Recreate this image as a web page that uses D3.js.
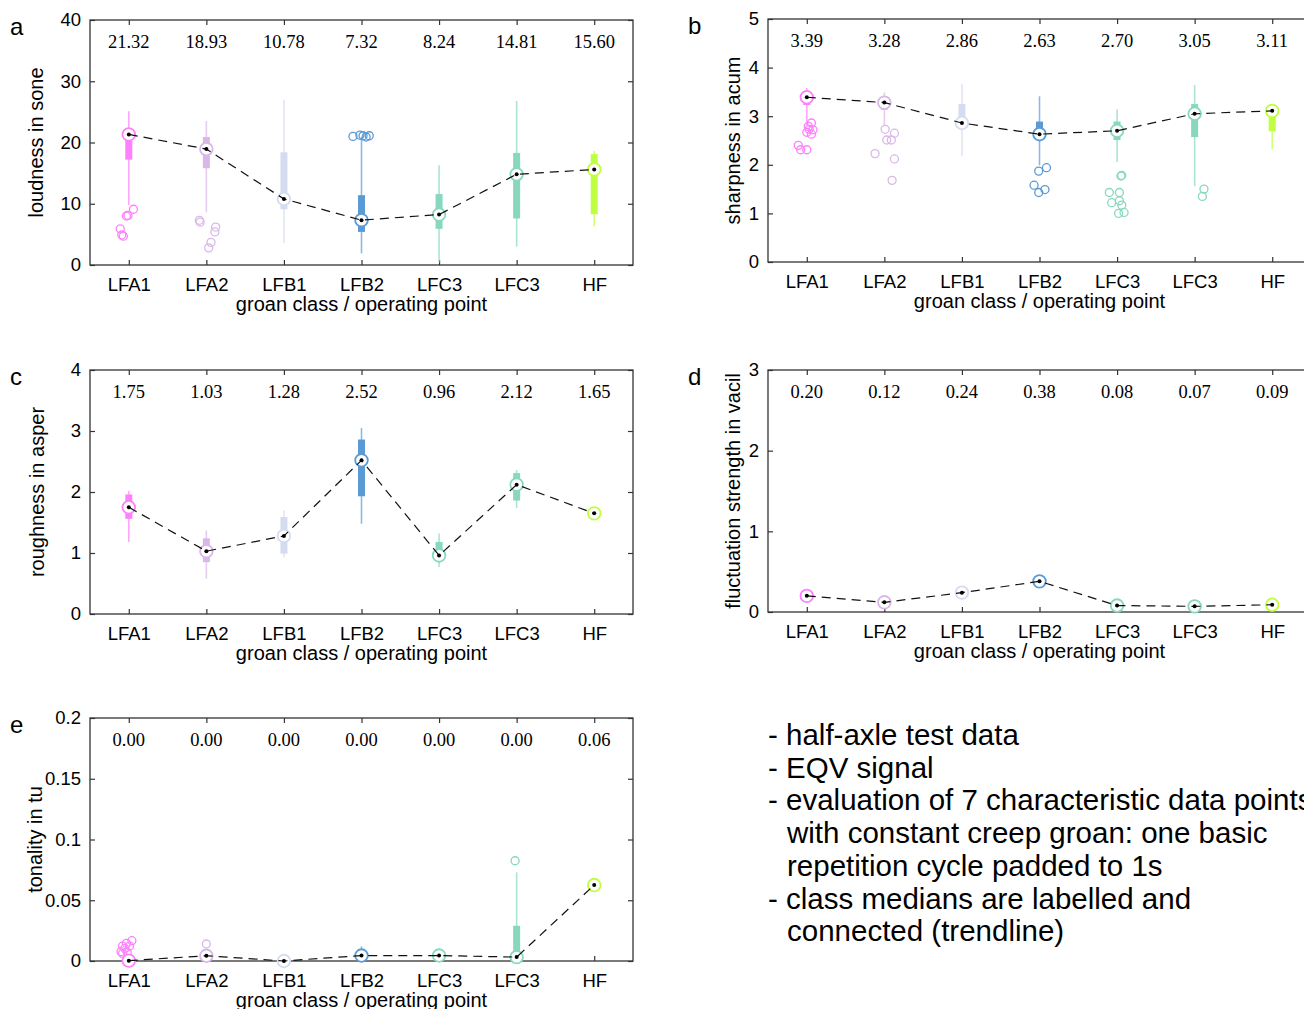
<!DOCTYPE html>
<html>
<head>
<meta charset="utf-8">
<script src="https://cdn.jsdelivr.net/npm/d3@7"></script>
<style>
  html, body { margin: 0; padding: 0; background: #fff; overflow: hidden; }
  svg { display: block; }
  .tick text { font-family: "Liberation Sans", Arial, sans-serif; font-size: 18.5px; fill: #000; }
  .tick line { stroke: #333; stroke-width: 1.2; }
</style>
</head>
<body>
<svg id="fig" width="1304" height="1009"></svg>
<script>
// groan classes, one box per class
const categories = ['LFA1', 'LFA2', 'LFB1', 'LFB2', 'LFC3', 'LFC3', 'HF'];
const classColors = ['#ff80ff', '#d9b8e8', '#d5dcf0', '#5b9bd5', '#88d8c0', '#88d8c0', '#bfff3f'];

// box stats per class: [whisker low, q1, median, q3, whisker high]
const loudnessStats = [
    [9.8, 17.2, 21.32, 21.5, 25.1],
    [8.6, 15.8, 18.93, 20.9, 23.5],
    [3.6, 9.1, 10.78, 18.4, 27.0],
    [1.9, 5.4, 7.32, 11.4, 20.9],
    [0.4, 5.9, 8.24, 11.6, 16.3],
    [3.0, 7.6, 14.81, 18.3, 26.8],
    [6.3, 8.3, 15.60, 18.1, 18.6]
];
// outliers: [class index, value, jitter in class units]
const loudnessOutliers = [
    [0, 8.0, -0.03], [0, 9.1, 0.06], [0, 5.9, -0.11], [0, 4.9, -0.09], [0, 4.7, -0.07], [0, 8.1, -0.01],
    [1, 7.3, -0.09], [1, 7.0, -0.08], [1, 6.2, 0.12], [1, 5.4, 0.11], [1, 3.7, 0.06], [1, 2.8, 0.03],
    [3, 21.0, -0.11], [3, 21.2, -0.02], [3, 21.1, 0.02], [3, 20.9, 0.06], [3, 21.1, 0.10]
];

const sharpnessStats = [
    [2.82, 3.23, 3.39, 3.42, 3.58],
    [2.82, 3.13, 3.28, 3.29, 3.49],
    [2.18, 2.87, 2.86, 3.25, 3.66],
    [1.99, 2.63, 2.63, 2.89, 3.41],
    [2.06, 2.51, 2.70, 2.89, 3.14],
    [1.56, 2.57, 3.05, 3.25, 3.64],
    [2.32, 2.69, 3.11, 3.12, 3.12]
];
const sharpnessOutliers = [
    [0, 2.86, 0.06], [0, 2.79, 0.02], [0, 2.72, 0.08], [0, 2.67, 0.0], [0, 2.63, 0.06], [0, 2.73, 0.03],
    [0, 2.40, -0.11], [0, 2.31, -0.08], [0, 2.31, 0.0],
    [1, 2.73, 0.01], [1, 2.65, 0.13], [1, 2.51, 0.03], [1, 2.51, 0.09], [1, 2.23, -0.12], [1, 2.12, 0.13], [1, 1.68, 0.10],
    [3, 1.87, -0.01], [3, 1.94, 0.09], [3, 1.58, -0.07], [3, 1.43, -0.01], [3, 1.49, 0.07],
    [4, 1.77, 0.05], [4, 1.78, 0.06], [4, 1.43, -0.1], [4, 1.43, 0.03], [4, 1.22, -0.07], [4, 1.26, 0.03],
    [4, 1.17, 0.06], [4, 1.00, 0.02], [4, 1.02, 0.09],
    [5, 1.50, 0.12], [5, 1.35, 0.10]
];

const roughnessStats = [
    [1.18, 1.56, 1.75, 1.96, 2.02],
    [0.58, 0.85, 1.03, 1.24, 1.37],
    [0.93, 0.99, 1.28, 1.59, 1.70],
    [1.48, 1.93, 2.52, 2.86, 3.05],
    [0.77, 0.93, 0.96, 1.18, 1.32],
    [1.74, 1.86, 2.12, 2.31, 2.36],
    [1.64, 1.65, 1.65, 1.66, 1.66]
];
const roughnessOutliers = [];

const fluctuationStats = [
    [0.18, 0.19, 0.20, 0.21, 0.22],
    [0.10, 0.11, 0.12, 0.13, 0.14],
    [0.22, 0.23, 0.24, 0.25, 0.26],
    [0.35, 0.37, 0.38, 0.40, 0.42],
    [0.06, 0.07, 0.08, 0.09, 0.10],
    [0.05, 0.06, 0.07, 0.08, 0.09],
    [0.08, 0.085, 0.09, 0.095, 0.10]
];
const fluctuationOutliers = [];

const tonalityStats = [
    [0.0, 0.0, 0.0003, 0.001, 0.002],
    [0.0, 0.002, 0.0043, 0.006, 0.008],
    [0.0, 0.0, 0.0, 0.0, 0.0],
    [0.0, 0.002, 0.0045, 0.006, 0.012],
    [0.0, 0.003, 0.0045, 0.005, 0.006],
    [0.0, 0.003, 0.0032, 0.029, 0.073],
    [0.062, 0.062, 0.0625, 0.063, 0.063]
];
const tonalityOutliers = [
    [0, 0.0123, -0.08], [0, 0.0145, -0.03], [0, 0.0167, 0.04], [0, 0.0077, -0.10], [0, 0.0104, -0.05],
    [0, 0.0123, 0.01], [0, 0.0063, -0.08], [0, 0.0071, -0.02],
    [1, 0.014, 0.0],
    [5, 0.0825, -0.02]
];

const loudnessTicks = [0, 10, 20, 30, 40];
const sharpnessTicks = [0, 1, 2, 3, 4, 5];
const roughnessTicks = [0, 1, 2, 3, 4];
const fluctuationTicks = [0, 1, 2, 3];
const tonalityTicks = [0, 0.05, 0.1, 0.15, 0.2];

const notes = [
    ['- half-axle test data'],
    ['- EQV signal'],
    ['- evaluation of 7 characteristic data points', 'with constant creep groan: one basic', 'repetition cycle padded to 1s'],
    ['- class medians are labelled and', 'connected (trendline)']
];

const svg = d3.select('#fig');
const SANS = '"Liberation Sans", Arial, sans-serif';
const SERIF = '"Liberation Serif", "Times New Roman", serif';
const PW = 543;

// labelX: where the rotated y label sits (depends on tick label width in the original)
const panels = [
    {letter: 'a', left: 90, top: 20, h: 245, yMax: 40, ticks: loudnessTicks, label: 'loudness in sone', labelX: 36,
        stats: loudnessStats, outliers: loudnessOutliers},
    {letter: 'b', left: 768, top: 19, h: 243, yMax: 5, ticks: sharpnessTicks, label: 'sharpness in acum', labelX: 733,
        stats: sharpnessStats, outliers: sharpnessOutliers},
    {letter: 'c', left: 90, top: 370, h: 244, yMax: 4, ticks: roughnessTicks, label: 'roughness in asper', labelX: 37,
        stats: roughnessStats, outliers: roughnessOutliers},
    {letter: 'd', left: 768, top: 370, h: 242, yMax: 3, ticks: fluctuationTicks, label: 'fluctuation strength in vacil', labelX: 733,
        stats: fluctuationStats, outliers: fluctuationOutliers},
    {letter: 'e', left: 90, top: 718, h: 243, yMax: 0.2, ticks: tonalityTicks, label: 'tonality in tu', labelX: 35,
        stats: tonalityStats, outliers: tonalityOutliers}
];

panels.forEach(drawPanel);

function drawPanel(p) {
    const x = d3.scaleLinear().domain([-0.5, categories.length - 0.5]).range([p.left, p.left + PW]);
    const y = d3.scaleLinear().domain([0, p.yMax]).range([p.top + p.h, p.top]);
    const g = svg.append('g');
    const idx = d3.range(categories.length);

    // axes, ticks point inward on all four sides
    g.append('g').attr('transform', `translate(0,${p.top + p.h})`)
        .call(d3.axisBottom(x).tickValues(idx).tickFormat(i => categories[i]).tickSizeInner(-5).tickSizeOuter(0).tickPadding(13));
    g.append('g').attr('transform', `translate(0,${p.top})`)
        .call(d3.axisTop(x).tickValues(idx).tickFormat('').tickSizeInner(-5).tickSizeOuter(0));
    g.append('g').attr('transform', `translate(${p.left},0)`)
        .call(d3.axisLeft(y).tickValues(p.ticks).tickFormat(d => String(+d.toFixed(2))).tickSizeInner(-5).tickSizeOuter(0).tickPadding(9));
    g.append('g').attr('transform', `translate(${p.left + PW},0)`)
        .call(d3.axisRight(y).tickValues(p.ticks).tickFormat('').tickSizeInner(-5).tickSizeOuter(0));
    g.selectAll('.domain').remove();

    g.append('rect')
        .attr('x', p.left).attr('y', p.top).attr('width', PW).attr('height', p.h)
        .attr('fill', 'none').attr('stroke', '#333').attr('stroke-width', 1.3);

    // labels
    g.append('text')
        .attr('x', x(3)).attr('y', p.top + p.h + 46)
        .attr('text-anchor', 'middle')
        .style('font-family', SANS).style('font-size', '20px')
        .text('groan class / operating point');
    g.append('text')
        .attr('transform', `translate(${p.labelX + 7},${p.top + p.h / 2}) rotate(-90)`)
        .attr('text-anchor', 'middle')
        .style('font-family', SANS).style('font-size', '20px')
        .text(p.label);
    g.append('text')
        .attr('x', p.left - 80).attr('y', p.top + 15)
        .style('font-family', SANS).style('font-size', '24px')
        .text(p.letter);

    // median labels
    g.selectAll('.mlab').data(p.stats).join('text')
        .attr('x', (d, i) => x(i)).attr('y', p.top + 28)
        .attr('text-anchor', 'middle')
        .style('font-family', SERIF).style('font-size', '18.5px')
        .text(d => d[2].toFixed(2));

    // whiskers
    g.selectAll('.whisker').data(p.stats).join('line')
        .attr('x1', (d, i) => x(i)).attr('x2', (d, i) => x(i))
        .attr('y1', d => y(d[0])).attr('y2', d => y(d[4]))
        .attr('stroke', (d, i) => classColors[i]).attr('stroke-opacity', 0.7).attr('stroke-width', 1.6);

    // boxes
    g.selectAll('.box').data(p.stats).join('rect')
        .attr('x', (d, i) => x(i) - 3.5).attr('width', 7)
        .attr('y', d => y(d[3])).attr('height', d => Math.max(0, y(d[1]) - y(d[3])))
        .attr('fill', (d, i) => classColors[i]);

    // outliers
    g.selectAll('.outlier').data(p.outliers).join('circle')
        .attr('cx', d => x(d[0] + d[2])).attr('cy', d => y(d[1])).attr('r', 4)
        .attr('fill', 'none').attr('stroke', d => classColors[d[0]]).attr('stroke-width', 1.3);

    // medians
    g.selectAll('.med').data(p.stats).join('circle')
        .attr('cx', (d, i) => x(i)).attr('cy', d => y(d[2])).attr('r', 6.3)
        .attr('fill', '#fff').attr('stroke', (d, i) => classColors[i]).attr('stroke-width', 1.8);

    // trendline through medians
    const line = d3.line().x((d, i) => x(i)).y(d => y(d[2]));
    g.append('path').datum(p.stats)
        .attr('d', line)
        .attr('fill', 'none').attr('stroke', '#111').attr('stroke-width', 1.2)
        .attr('stroke-dasharray', '9,6');

    g.selectAll('.dot').data(p.stats).join('circle')
        .attr('cx', (d, i) => x(i)).attr('cy', d => y(d[2])).attr('r', 2)
        .attr('fill', '#000');
}

// notes block
const noteG = svg.append('g').style('font-family', SANS).style('font-size', '29.5px');
let lineNo = 0;
notes.forEach(item => {
    item.forEach((t, j) => {
        noteG.append('text')
            .attr('x', j === 0 ? 768 : 787)
            .attr('y', 745 + lineNo * 32.7)
            .text(t);
        lineNo++;
    });
});
</script>
</body>
</html>
